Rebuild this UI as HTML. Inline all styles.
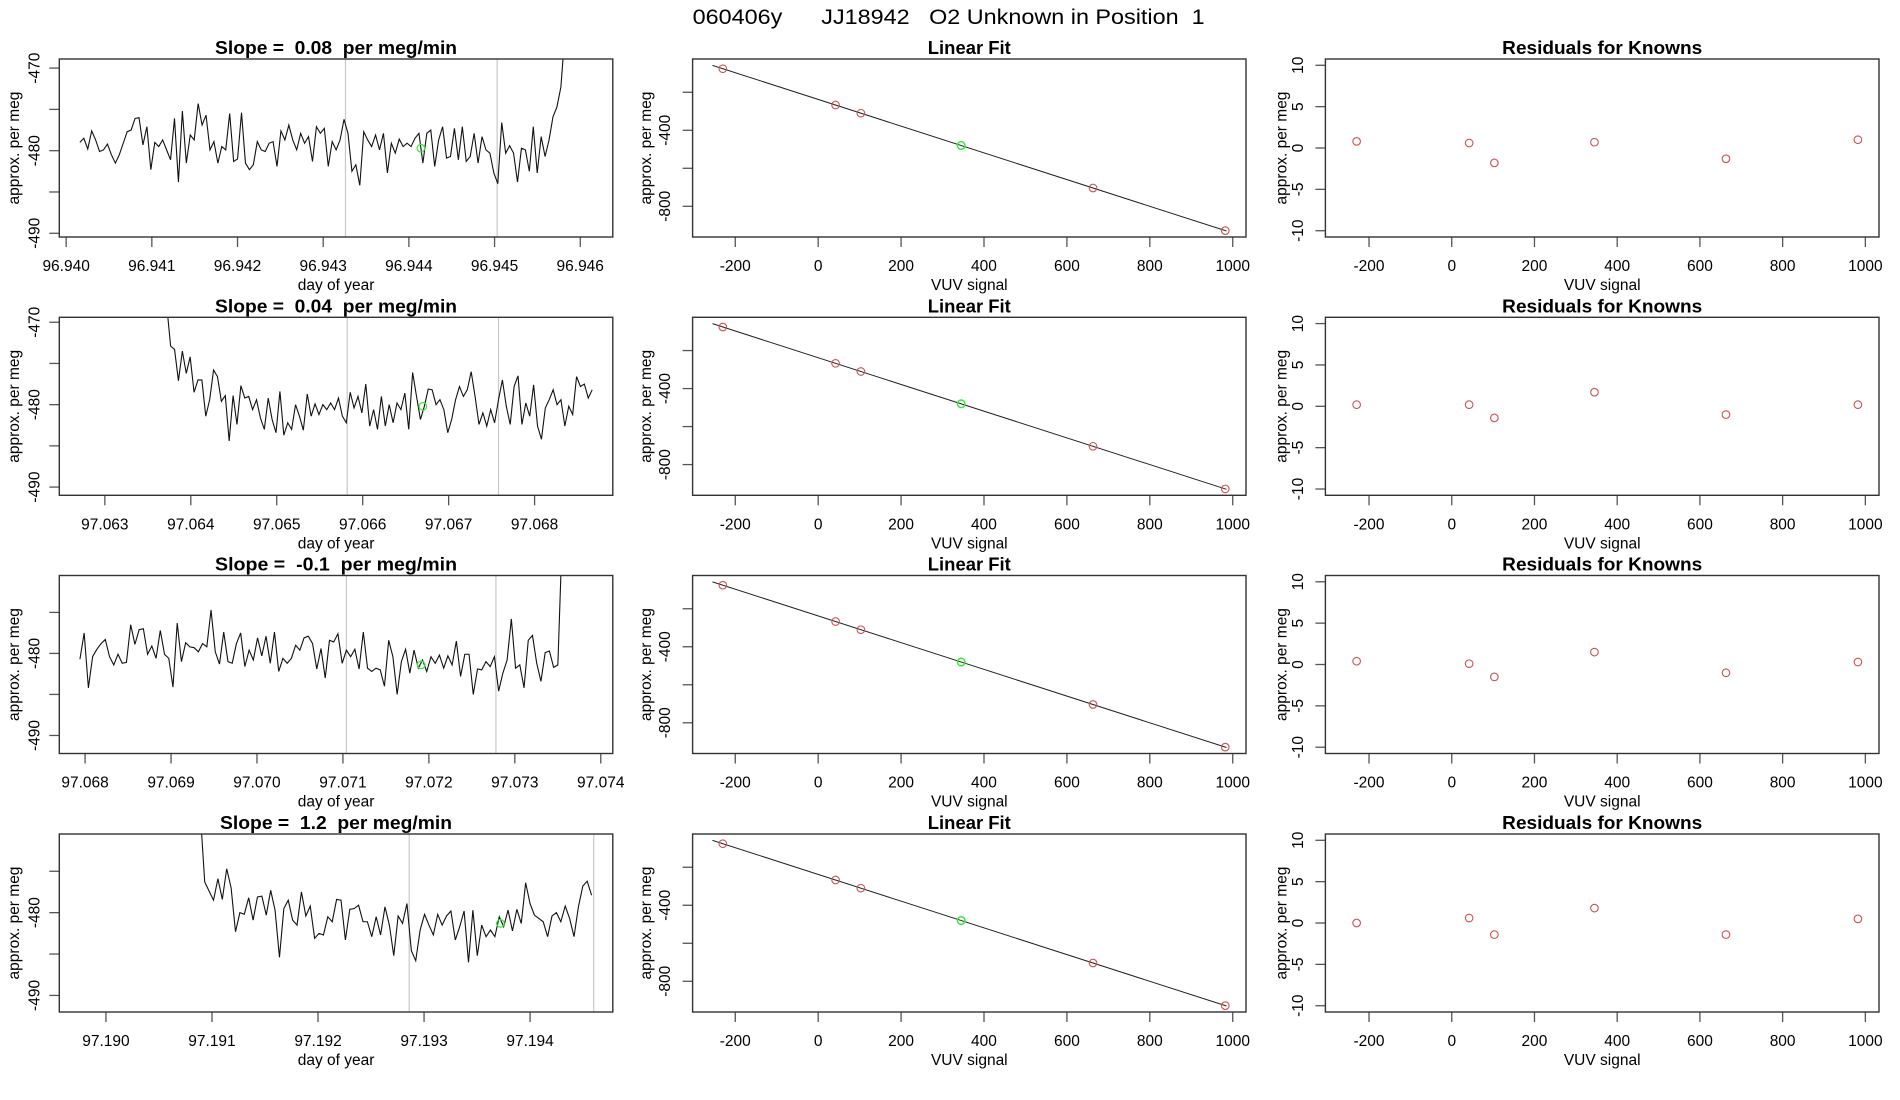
<!DOCTYPE html>
<html><head><meta charset="utf-8">
<style>
html,body{margin:0;padding:0;background:#fff;}
svg{display:block;font-family:"Liberation Sans",Arial,sans-serif;}
svg text{white-space:pre;}
</style></head>
<body>
<svg id="chart" width="1900" height="1100" viewBox="0 0 1900 1100" xmlns="http://www.w3.org/2000/svg">
<text x="692.6" y="24" font-size="21" textLength="512" lengthAdjust="spacingAndGlyphs" xml:space="preserve">060406y      JJ18942   O2 Unknown in Position  1</text>
</svg>
<script>
// ---- time series data (one per row) ----
const seriesStart = [96.94016, 97.06372, 97.06794, 97.19089];
const seriesEnd = [96.94582, 97.06867, 97.07355, 97.19458];
const series1 = [-479.0,-478.5,-479.8,-477.6,-478.7,-480.1,-479.9,-479.2,-480.5,-481.5,-480.5,-479.1,-477.7,-477.5,-476.1,-476.0,-479.3,-477.1,-482.3,-479.0,-479.5,-478.7,-479.9,-481.1,-476.1,-483.8,-475.2,-481.5,-478.1,-478.7,-474.3,-476.9,-475.7,-479.9,-478.9,-481.5,-479.5,-479.9,-475.5,-481.3,-481.0,-475.4,-481.5,-482.3,-481.7,-478.9,-479.9,-480.1,-479.1,-478.9,-481.9,-477.6,-478.7,-476.9,-478.7,-479.9,-477.9,-479.1,-478.3,-481.3,-477.1,-477.9,-477.3,-481.9,-478.9,-479.9,-478.7,-476.2,-477.9,-482.5,-481.7,-484.2,-477.7,-478.7,-479.5,-478.1,-479.9,-477.9,-482.7,-479.1,-480.3,-478.6,-479.5,-479.1,-479.5,-478.5,-477.9,-481.5,-477.9,-477.5,-481.9,-478.7,-477.1,-480.9,-480.7,-477.3,-481.1,-477.1,-481.3,-480.7,-477.9,-481.5,-478.3,-479.9,-480.3,-482.7,-484.0,-476.6,-480.3,-479.4,-480.3,-483.8,-479.7,-479.9,-482.5,-477.1,-482.7,-478.3,-480.7,-478.7,-475.9,-474.7,-472.3,-466.0];
const series2 = [-468.0,-472.9,-473.3,-477.1,-473.5,-476.2,-474.2,-478.5,-477.0,-477.0,-481.4,-479.4,-475.8,-476.6,-479.6,-478.9,-484.4,-478.9,-482.4,-477.7,-479.2,-479.0,-480.6,-479.4,-481.6,-483.0,-479.2,-481.8,-483.4,-478.4,-483.7,-482.2,-483.0,-480.0,-481.4,-483.1,-478.7,-481.4,-479.9,-481.2,-480.0,-480.6,-479.8,-480.6,-479.2,-481.4,-482.2,-478.5,-480.4,-479.0,-481.0,-477.5,-482.6,-480.6,-483.0,-479.0,-482.6,-480.0,-482.2,-479.8,-480.6,-478.6,-483.0,-476.1,-479.0,-481.8,-480.2,-478.1,-478.2,-480.0,-479.4,-480.6,-483.4,-481.8,-479.4,-477.8,-479.0,-478.2,-476.0,-479.0,-482.4,-481.0,-482.6,-480.6,-482.2,-479.4,-477.0,-480.2,-482.4,-477.8,-476.5,-482.4,-479.8,-481.4,-477.6,-482.6,-484.2,-480.4,-479.4,-478.2,-480.0,-479.4,-482.6,-480.2,-481.2,-476.6,-477.8,-477.5,-479.2,-478.2];
const series3 = [-480.7,-477.5,-484.2,-480.4,-479.5,-478.8,-478.3,-480.4,-481.4,-480.1,-481.2,-481.1,-476.5,-478.9,-477.1,-477.0,-480.1,-479.1,-480.6,-477.2,-480.1,-480.6,-484.1,-476.3,-481.0,-478.7,-479.2,-479.3,-479.8,-478.8,-479.2,-474.7,-479.8,-481.3,-477.4,-481.0,-481.2,-478.8,-477.5,-481.6,-479.6,-480.8,-478.1,-480.3,-477.9,-481.2,-477.4,-482.2,-480.6,-481.2,-480.6,-479.0,-479.6,-478.1,-477.9,-478.8,-481.9,-479.4,-483.0,-478.4,-478.6,-477.6,-481.2,-479.6,-480.4,-479.5,-481.9,-477.4,-481.8,-482.2,-481.8,-482.0,-484.0,-478.4,-480.4,-485.0,-481.0,-479.5,-482.4,-479.6,-481.8,-480.8,-482.2,-480.4,-481.2,-480.2,-481.8,-480.3,-481.4,-478.5,-482.8,-480.1,-480.1,-485.0,-481.9,-482.0,-481.0,-481.6,-480.4,-484.6,-482.4,-480.8,-475.8,-481.8,-481.4,-484.2,-478.4,-477.8,-481.2,-483.4,-479.9,-479.7,-481.7,-481.4,-466.0];
const series4 = [-468.0,-476.3,-477.4,-478.5,-475.9,-478.4,-474.7,-477.0,-482.3,-480.0,-480.2,-478.2,-480.9,-478.1,-478.0,-480.3,-477.3,-479.7,-485.4,-479.5,-478.5,-480.9,-481.5,-477.5,-480.4,-479.2,-483.1,-482.5,-482.7,-480.5,-481.1,-478.4,-478.5,-483.3,-479.6,-479.5,-479.1,-481.1,-481.1,-482.9,-480.5,-482.7,-479.3,-481.5,-485.2,-480.4,-481.3,-478.9,-484.6,-485.8,-482.1,-480.2,-481.5,-482.7,-480.2,-481.5,-480.4,-479.8,-483.3,-481.7,-479.8,-486.0,-479.7,-485.2,-481.5,-482.9,-482.1,-482.9,-480.5,-481.7,-479.7,-482.2,-479.6,-481.3,-476.4,-478.9,-480.3,-480.7,-481.1,-482.9,-480.4,-480.0,-481.1,-479.2,-480.7,-482.9,-479.3,-476.8,-476.2,-477.9];
const slopeLabels = ["0.08", "0.04", "-0.1", "1.2"];
const markerTimes = [[96.94326, 96.94503], [97.06582, 97.06758], [97.07104, 97.07278], [97.19286, 97.19460]];
const unknownTime = [96.94414, 97.06670, 97.07191, 97.19372];
const unknownValue = [-479.7, -480.2, -481.4, -481.3];
const timeDomainMin = [96.93992, 97.06247, 97.06770, 97.18956];
const timeDomainMax = [96.94638, 97.06891, 97.07414, 97.19478];
const valDomainMin = [-490.45, -491.0, -492.2, -492.0];
const valDomainMax = [-468.9, -469.4, -470.5, -470.5];
const timeTickLabels = [
  ["96.940","96.941","96.942","96.943","96.944","96.945","96.946"],
  ["97.063","97.064","97.065","97.066","97.067","97.068"],
  ["97.068","97.069","97.070","97.071","97.072","97.073","97.074"],
  ["97.190","97.191","97.192","97.193","97.194"]];
const valTicks = [[-470,-475,-480,-485,-490],[-470,-475,-480,-485,-490],[-475,-480,-485,-490],[-475,-480,-485,-490]];
const valTickLabels = [["-470","","-480","","-490"],["-470","","-480","","-490"],["","-480","","-490"],["","-480","","-490"]];
// ---- linear fit data ----
const knownX = [-230, 42, 103, 345, 663, 982];
const fitIntercept = -237.7;
const fitSlope = -0.703;
const fitRange = [-255, 985];
const unknownX = 345;
const unknownY = -480.2;
const fitXTicks = [-200, 0, 200, 400, 600, 800, 1000];
const fitYTicks = [-200, -400, -600, -800];
const fitYTickLabels = ["", "-400", "", "-800"];
// ---- residuals ----
const residX = [-230, 42, 103, 345, 663, 982];
const resid1 = [0.8, 0.6, -1.8, 0.7, -1.3, 1.0];
const resid2 = [0.2, 0.2, -1.4, 1.7, -1.0, 0.2];
const resid3 = [0.4, 0.1, -1.5, 1.5, -1.0, 0.3];
const resid4 = [0.0, 0.6, -1.4, 1.8, -1.4, 0.5];
const residYTicks = [-10, -5, 0, 5, 10];

const NS = "http://www.w3.org/2000/svg";
const svg = document.getElementById("chart");
function mk(tag, attrs, parent) {
  const e = document.createElementNS(NS, tag);
  for (const k in attrs) e.setAttribute(k, attrs[k]);
  (parent || svg).appendChild(e);
  return e;
}
function lin(d0, d1, r0, r1) { return v => r0 + (v - d0) / (d1 - d0) * (r1 - r0); }

const rowTop = [59, 317.3, 575.5, 834];
const boxH = 178;
const cols = [{l:59.3,r:612.8,ylab:39.5,ytitle:19},{l:692.6,r:1246,ylab:670,ytitle:651},{l:1325.4,r:1879,ylab:1303,ytitle:1286.5}];
const allSeries = [series1, series2, series3, series4];
const allResid = [resid1, resid2, resid3, resid4];

function frame(row, col, title, titleLen, xLab, yLab, xticks, xtickLabels, xs, yticks, ytickLabels, ys) {
  const c = cols[col], top = rowTop[row], bot = top + boxH;
  const g = mk("g", {});
  
  
  const t = mk("text", {x:(c.l+c.r)/2, y: top-5, "text-anchor":"middle", "font-size":18.5, "font-weight":"bold", textLength:titleLen, lengthAdjust:"spacingAndGlyphs"}, g);
  t.textContent = title;
  
  
  xticks.forEach((v, i) => {
    const x = xs(v);
    mk("line", {x1:x, x2:x, y1:bot, y2:bot+10, stroke:"#555", "stroke-width":1.3}, g);
    const tl = mk("text", {x:x, y:bot+34, "text-anchor":"middle", "font-size":15.5}, g);
    tl.textContent = xtickLabels[i];
    
    
  });
  yticks.forEach((v, i) => {
    const y = ys(v);
    mk("line", {x1:c.l-10, x2:c.l, y1:y, y2:y, stroke:"#555", "stroke-width":1.3}, g);
    if (ytickLabels[i]) {
      const tl = mk("text", {x:0, y:0, "text-anchor":"middle", "font-size":15.5, transform:"translate("+c.ylab+","+y+") rotate(-90)"}, g);
      tl.textContent = ytickLabels[i];
      
      
    }
  });
  const xt = mk("text", {x:(c.l+c.r)/2, y:bot+53, "text-anchor":"middle", "font-size":15.5}, g);
  xt.textContent = xLab;
  
  
  const yt = mk("text", {x:0, y:0, "text-anchor":"middle", "font-size":15.5, transform:"translate("+c.ytitle+","+(top+boxH/2)+") rotate(-90)"}, g);
  yt.textContent = yLab;
  
  
  const cp = mk("clipPath", {id:"clip"+row+"_"+col}, g);
  mk("rect", {x:c.l, y:top, width:c.r-c.l, height:boxH}, cp);
  const plot = mk("g", {"clip-path":"url(#clip"+row+"_"+col+")"}, g);
  
  
  const box = mk("rect", {x:c.l, y:top, width:c.r-c.l, height:boxH, fill:"none", stroke:"#333", "stroke-width":1.4}, g);
  
  
  return plot;
}

for (let r = 0; r < 4; r++) {
  const c0 = cols[0], top = rowTop[r];
  const xs = lin(timeDomainMin[r], timeDomainMax[r], c0.l, c0.r);
  const ys = lin(valDomainMin[r], valDomainMax[r], top+boxH, top);
  const tickVals = timeTickLabels[r].map(Number);
  const p = frame(r, 0, "Slope =  " + slopeLabels[r] + "  per meg/min", slopeLabels[r].length > 3 ? 242 : 232,
    "day of year", "approx. per meg", tickVals, timeTickLabels[r], xs, valTicks[r], valTickLabels[r], ys);
  markerTimes[r].forEach(t => {
    const ln = mk("line", {x1:xs(t), x2:xs(t), y1:top, y2:top+boxH, stroke:"#c8c8c8", "stroke-width":1.2}, p);
    
    
  });
  const s = allSeries[r];
  const step = (seriesEnd[r] - seriesStart[r]) / (s.length - 1);
  const pts = s.map((v, i) => xs(seriesStart[r] + i*step).toFixed(2) + "," + ys(v).toFixed(2)).join(" ");
  const pl = mk("polyline", {points:pts, fill:"none", stroke:"#111", "stroke-width":1.1}, p);
  
  
  const gc = mk("circle", {cx:xs(unknownTime[r]), cy:ys(unknownValue[r]), r:3.8, fill:"none", stroke:"#33ee33", "stroke-width":1.2}, p);
  
  

  const c1 = cols[1];
  const fx = lin(-302.9, 1032, c1.l, c1.r);
  const fy = lin(-961.6, -25, top+boxH, top);
  const p2 = frame(r, 1, "Linear Fit", 83, "VUV signal", "approx. per meg", fitXTicks, fitXTicks.map(String), fx, fitYTicks, fitYTickLabels, fy);
  const fl = mk("line", {x1:fx(fitRange[0]), y1:fy(fitIntercept+fitSlope*fitRange[0]), x2:fx(fitRange[1]), y2:fy(fitIntercept+fitSlope*fitRange[1]), stroke:"#222", "stroke-width":1}, p2);
  
  
  knownX.forEach(x => {
    const k = mk("circle", {cx:fx(x), cy:fy(fitIntercept+fitSlope*x), r:3.8, fill:"none", stroke:"#cd5050", "stroke-width":1.1}, p2);
    
    
  });
  const u = mk("circle", {cx:fx(unknownX), cy:fy(unknownY), r:3.8, fill:"none", stroke:"#33ee33", "stroke-width":1.4}, p2);
  
  

  const c2 = cols[2];
  const rx = lin(-305.5, 1033, c2.l, c2.r);
  const ry = lin(-10.76, 10.76, top+boxH, top);
  const p3 = frame(r, 2, "Residuals for Knowns", 200, "VUV signal", "approx. per meg", fitXTicks, fitXTicks.map(String), rx, residYTicks, residYTicks.map(String), ry);
  allResid[r].forEach((v, i) => {
    const k = mk("circle", {cx:rx(residX[i]), cy:ry(v), r:3.8, fill:"none", stroke:"#cd5050", "stroke-width":1.1}, p3);
    
    
  });
}
</script>
</body></html>
